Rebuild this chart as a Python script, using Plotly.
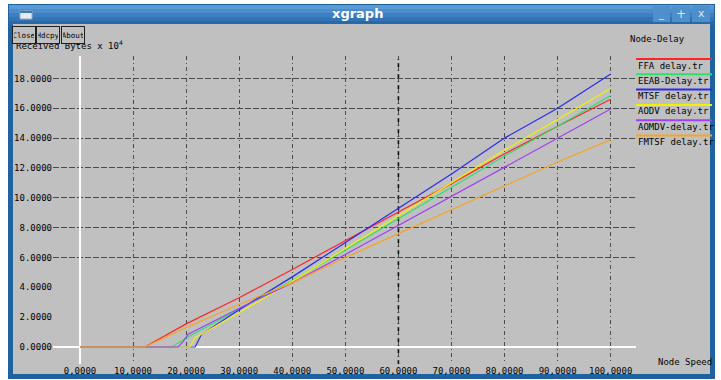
import plotly.graph_objects as go

# ---------------- data ----------------
series_names = ["FFA delay.tr", "EEAB-Delay.tr", "MTSF delay.tr",
                "AODV delay.tr", "AOMDV-delay.tr", "FMTSF delay.tr"]
series_colors = ["#ff2424", "#2ee06a", "#2a2af0", "#f2f200", "#a040f0", "#f5a423"]

speed_ffa = [0, 12.2, 20, 30, 40, 50, 60, 70, 80, 90, 100]
delay_ffa = [0, 0, 1.55, 3.3, 5.2, 7.15, 9.05, 10.95, 12.95, 14.8, 16.6]

speed_eeab = [0, 17.3, 20, 30, 40, 50, 60, 70, 80, 90, 100]
delay_eeab = [0, 0, 0.6, 2.5, 4.45, 6.5, 8.6, 10.7, 12.8, 14.8, 16.85]

speed_mtsf = [0, 21.7, 22.9, 30, 40, 50, 60, 70, 80, 90, 100]
delay_mtsf = [0, 0, 0.85, 2.5, 4.7, 7.0, 9.35, 11.6, 14.0, 16.0, 18.3]

speed_aodv = [0, 20.7, 21.7, 30, 40, 50, 60, 70, 80, 90, 100]
delay_aodv = [0, 0, 0.62, 2.3, 4.4, 6.6, 8.75, 11.0, 13.2, 15.25, 17.33]

speed_aomdv = [0, 18.5, 19.5, 20.4, 30, 40, 50, 60, 70, 80, 90, 100]
delay_aomdv = [0, 0, 0.4, 0.85, 2.6, 4.3, 6.2, 8.15, 10.1, 12.05, 14.0, 15.95]

speed_fmtsf = [0, 12.2, 20, 30, 40, 50, 60, 70, 80, 90, 100]
delay_fmtsf = [0, 0, 1.3, 2.85, 4.3, 6.0, 7.6, 9.2, 10.8, 12.4, 13.9]

x_tick_vals = [0, 10, 20, 30, 40, 50, 60, 70, 80, 90, 100]
x_tick_text = ["0,0000", "10,0000", "20,0000", "30,0000", "40,0000", "50,0000",
               "60,0000", "70,0000", "80,0000", "90,0000", "100,0000"]
y_tick_vals = [0, 2, 4, 6, 8, 10, 12, 14, 16, 18]
y_tick_text = ["0.0000", "2.0000", "4.0000", "6.0000", "8.0000", "10.0000",
               "12.0000", "14.0000", "16.0000", "18.0000"]
y_grid_vals = [6, 8, 10, 12, 14, 16, 18]
x_bold_grid = 60

# ---------------- figure geometry ----------------
K = 388 / 380            # vertical compensation for the capture
W, H = 721, 388
L, R, T, B = 53, 636, 55, 363   # plot area in reference pixels


def px(x):
    return (x - L) / (R - L)


def py(y):
    return (B - y) / (B - T)


MONO = "DejaVu Sans Mono"
GRAY = "#c0c0c0"

fig = go.Figure()
xs = [speed_ffa, speed_eeab, speed_mtsf, speed_aodv, speed_aomdv, speed_fmtsf]
ys = [delay_ffa, delay_eeab, delay_mtsf, delay_aodv, delay_aomdv, delay_fmtsf]
for name, col, x, y in zip(series_names, series_colors, xs, ys):
    fig.add_trace(go.Scatter(x=x, y=y, mode="lines", name=name,
                             line=dict(color=col, width=1.2),
                             showlegend=False, hoverinfo="skip"))
# helper trace so the grid-only overlay axis is drawn
fig.add_trace(go.Scatter(x=[None], y=[None], yaxis="y2", showlegend=False,
                         hoverinfo="skip"))

shapes = []
# window frame
shapes.append(dict(type="rect", xref="paper", yref="paper", layer="below",
                   x0=px(8), x1=px(715), y0=py(378), y1=py(3),
                   fillcolor="#1f62a0", line=dict(width=0)))
# title bar gradient bands
bands = ["#5a9ad6", "#4b8dcc", "#3d80c1", "#3274b5", "#2a69a9"]
for i, c in enumerate(bands):
    shapes.append(dict(type="rect", xref="paper", yref="paper", layer="below",
                       x0=px(9), x1=px(714), y0=py(4 + 4 * (i + 1)), y1=py(4 + 4 * i),
                       fillcolor=c, line=dict(width=0)))
# window content
shapes.append(dict(type="rect", xref="paper", yref="paper", layer="below",
                   x0=px(13), x1=px(710), y0=py(373), y1=py(23),
                   fillcolor=GRAY, line=dict(width=0)))
# darker grid line at x = 60
shapes.append(dict(type="line", xref="x", yref="paper", layer="below",
                   x0=x_bold_grid, x1=x_bold_grid, y0=0, y1=1,
                   line=dict(color="#101010", width=1.6, dash="4px,3px,1px,3px")))
# icon in title bar
shapes.append(dict(type="rect", xref="paper", yref="paper", layer="below",
                   x0=px(20), x1=px(32), y0=py(18), y1=py(10),
                   fillcolor="#e4ebf3", line=dict(color="#9ab", width=1)))
shapes.append(dict(type="rect", xref="paper", yref="paper", layer="below",
                   x0=px(20), x1=px(32), y0=py(12), y1=py(10),
                   fillcolor="#3a78c0", line=dict(width=0)))
# title bar buttons
for x0, x1 in [(653, 670), (672, 690), (692, 710)]:
    shapes.append(dict(type="rect", xref="paper", yref="paper", layer="below",
                       x0=px(x0), x1=px(x1), y0=py(21), y1=py(5),
                       fillcolor="#4f8fcb", line=dict(width=0)))
# legend lines
for i, col in enumerate(series_colors):
    yy = 58 + 15.3 * i
    shapes.append(dict(type="line", xref="paper", yref="paper", layer="above",
                       x0=px(636), x1=px(712), y0=py(yy), y1=py(yy),
                       line=dict(color=col, width=2)))

ann = []


def text(x, y, s, size=9, color="black", xanchor="left", family=MONO, **kw):
    ann.append(dict(x=px(x), y=py(y), xref="paper", yref="paper", text=s,
                    showarrow=False, xanchor=xanchor, yanchor="middle",
                    font=dict(family=family, size=size, color=color), **kw))


text(357, 13, "<b>xgraph</b>", size=13, color="white", xanchor="center",
     family="DejaVu Sans")
text(661, 13, "_", size=10, color="#dbe8f5", xanchor="center", family="DejaVu Sans")
text(681, 13, "+", size=12, color="#dbe8f5", xanchor="center", family="DejaVu Sans")
text(701, 13, "x", size=11, color="#dbe8f5", xanchor="center", family="DejaVu Sans")
# y axis label (partly hidden under the buttons)
text(14, 44, "Received Bytes x 10<sup>4</sup>", size=9)
# buttons
for x, s in [(12, "Close"), (36, "Hdcpy"), (61, "About")]:
    ann.append(dict(x=px(x), y=py(34), xref="paper", yref="paper", text=s,
                    showarrow=False, xanchor="left", yanchor="middle",
                    width=20, height=14,
                    font=dict(family=MONO, size=7.5, color="black"),
                    bgcolor=GRAY, bordercolor="#202020", borderwidth=1, borderpad=1))
text(628, 38, "Node-Delay", size=9)
text(714, 361, "Node Speed", size=9, xanchor="right")
for i, name in enumerate(series_names):
    text(636, 58 + 15.3 * i + 6.5, name, size=9)

fig.update_layout(
    width=W, height=H,
    margin=dict(l=L, r=W - R, t=T * K, b=H - B * K, pad=0),
    paper_bgcolor="white",
    plot_bgcolor="rgba(0,0,0,0)",
    shapes=shapes,
    annotations=ann,
    xaxis=dict(range=[(L - 80) / 5.307, (R - 80) / 5.307],
               tickvals=x_tick_vals, ticktext=x_tick_text,
               tickfont=dict(family=MONO, size=9, color="black"),
               showgrid=True, gridcolor="#4a4a4a", gridwidth=1,
               griddash="4px,3px,1px,3px",
               zeroline=True, zerolinecolor="white", zerolinewidth=1.5,
               showline=False, ticks=""),
    yaxis=dict(range=[(346 - B) / 14.92, (346 - T) / 14.92],
               tickvals=y_tick_vals, ticktext=y_tick_text,
               tickfont=dict(family=MONO, size=9, color="black"),
               showgrid=False,
               zeroline=True, zerolinecolor="white", zerolinewidth=1.5,
               showline=False, ticks=""),
    yaxis2=dict(range=[(346 - B) / 14.92, (346 - T) / 14.92],
                overlaying="y", side="left",
                tickvals=y_grid_vals, showticklabels=False,
                showgrid=True, gridcolor="#4a4a4a", gridwidth=1, griddash="6px,2px",
                zeroline=False, showline=False, ticks=""),
    showlegend=False,
)

post = (
    "document.documentElement.style.overflow='hidden';"
    "document.body.style.margin='0';"
    "document.body.style.padding='0';"
    "document.body.style.overflow='hidden';"
    "var d=document.getElementById('{plot_id}');"
    "d.style.display='block';"
    "d.parentElement.style.lineHeight='0';"
)
fig.write_html("out.html", config={"displayModeBar": False}, post_script=post)
